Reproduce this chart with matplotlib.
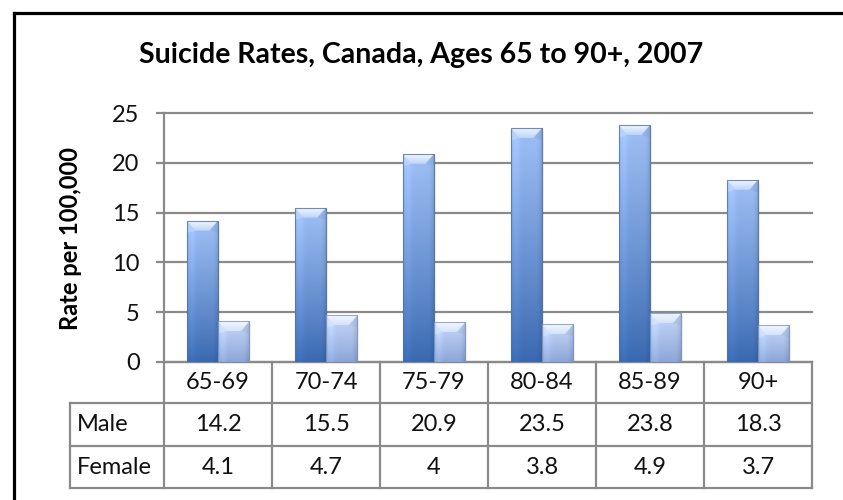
import numpy as np
import matplotlib
matplotlib.use("Agg")
import matplotlib.pyplot as plt
from matplotlib.patches import Rectangle, Polygon
from matplotlib.lines import Line2D

# ---- data -------------------------------------------------------------
categories = ["65-69", "70-74", "75-79", "80-84", "85-89", "90+"]
male = [14.2, 15.5, 20.9, 23.5, 23.8, 18.3]
female = [4.1, 4.7, 4, 3.8, 4.9, 3.7]
series_names = ["Male", "Female"]
y_ticks = [0, 5, 10, 15, 20, 25]
title = "Suicide Rates, Canada, Ages 65 to 90+, 2007"
y_label = "Rate per 100,000"

# ---- figure -----------------------------------------------------------
plt.rcParams['font.family'] = ['Lato', 'DejaVu Sans']
W, H = 843, 500
fig = plt.figure(figsize=(W / 100, H / 100), dpi=100)
fig.patch.set_facecolor("white")


def fx(px):
    return px / W


def fy(py):
    return 1 - py / H


GRID = "#8a8a8a"
TEXT = "#111111"

ax_l, ax_r, ax_t, ax_b = 164, 812, 113, 362
ax = fig.add_axes([fx(ax_l), fy(ax_b), (ax_r - ax_l) / W, (ax_b - ax_t) / H])
n = len(categories)
ymax = y_ticks[-1]

# grid and axes styling
ax.set_yticks(y_ticks)
ax.set_yticklabels([str(t) for t in y_ticks], fontsize=17, color=TEXT)
ax.yaxis.grid(True, color=GRID, lw=1.6)
ax.set_axisbelow(True)
ax.set_xticks([])
for s in ("top", "right"):
    ax.spines[s].set_visible(False)
for s in ("left", "bottom"):
    ax.spines[s].set_color(GRID)
    ax.spines[s].set_linewidth(1.6)
ax.tick_params(axis="y", direction="out", length=5.5, width=1.6, color=GRID, pad=12)

# pixel -> data conversion for bevel sizes
px_x = n / (ax_r - ax_l)
px_y = ymax / (ax_b - ax_t)

bar_w = 0.29
centers = np.arange(n) + 0.5

styles = {
    "Male": dict(bottom=(56, 104, 176), top=(160, 192, 246),
                 bevel_top=(240, 246, 255), bevel_bot=(190, 212, 250),
                 edge="#4f72a8"),
    "Female": dict(bottom=(138, 164, 214), top=(198, 216, 249),
                   bevel_top=(244, 248, 255), bevel_bot=(212, 226, 250),
                   edge="#7f97c4"),
}


def body_image(st):
    ny, nx = 256, 48
    t = np.linspace(0, 1, ny)[:, None]          # 0 bottom -> 1 top
    u = np.linspace(0, 1, nx)[None, :]          # 0 left -> 1 right
    bot = np.array(st["bottom"], float) / 255
    top = np.array(st["top"], float) / 255
    base = bot[None, None, :] + (top - bot)[None, None, :] * (t ** 0.9)[:, :, None]
    shade = 1.0 + 0.06 * np.exp(-((u - 0.15) / 0.12) ** 2) - 0.13 * np.clip((u - 0.8) / 0.2, 0, 1) ** 1.5
    img = np.clip(base * shade[:, :, None], 0, 1)
    return img[::-1]                             # row 0 at top for imshow


def bevel_image(st):
    ny = 64
    t = np.linspace(0, 1, ny)[:, None]
    a = np.array(st["bevel_top"], float) / 255
    b = np.array(st["bevel_bot"], float) / 255
    img = b[None, :] + (a - b)[None, :] * t
    img = np.repeat(img[:, None, :], 4, axis=1)
    return img[::-1]


def draw_bar(patch, st):
    x0 = patch.get_x()
    w = patch.get_width()
    h = patch.get_height()
    x1 = x0 + w
    # soft shadow to the right
    ax.add_patch(Rectangle((x1, 0), 2 * px_x, h - 3 * px_y, facecolor="#000000",
                           alpha=0.06, lw=0, zorder=2.5))
    im = ax.imshow(body_image(st), extent=(x0, x1, 0, h), aspect="auto",
                   interpolation="bilinear", zorder=3)
    im.set_clip_path(patch)
    ix, iy = 8.5 * px_x, 10 * px_y
    iy = min(iy, h * 0.4)
    top_face = Polygon([(x0, h), (x1, h), (x1 - ix, h - iy), (x0 + ix, h - iy)],
                       closed=True, facecolor="none", lw=0, zorder=3.2)
    ax.add_patch(top_face)
    bim = ax.imshow(bevel_image(st), extent=(x0, x1, h - iy, h), aspect="auto",
                    interpolation="bilinear", zorder=3.2)
    bim.set_clip_path(top_face)
    # side bevels
    ax.add_patch(Polygon([(x0, h), (x0 + ix, h - iy), (x0 + ix * 0.25, h - iy * 1.2), (x0, h - iy * 1.2)],
                         closed=True, facecolor="white", alpha=0.22, lw=0, zorder=3.1))
    ax.add_patch(Polygon([(x1, h), (x1 - ix, h - iy), (x1 - ix * 0.25, h - iy * 1.2), (x1, h - iy * 1.2)],
                         closed=True, facecolor="#203a6a", alpha=0.06, lw=0, zorder=3.1))
    ax.add_patch(Rectangle((x0, 0), w, h, facecolor="none", edgecolor=st["edge"],
                           lw=0.8, alpha=0.8, zorder=3.4))


male_bars = ax.bar(centers - bar_w / 2, male, width=bar_w, color="none", lw=0, zorder=3)
female_bars = ax.bar(centers + bar_w / 2, female, width=bar_w, color="none", lw=0, zorder=3)
for p in male_bars:
    draw_bar(p, styles["Male"])
for p in female_bars:
    draw_bar(p, styles["Female"])

ax.set_xlim(0, n)
ax.set_ylim(0, ymax)
for gl in ax.get_ygridlines():
    gl.set_clip_on(False)

# ---- data table beneath the axis ------------------------------------
col_edges = [ax_l + k * (ax_r - ax_l) / n for k in range(n + 1)]
row_edges = [ax_b, 403, 446, 488]
lab_l = 70


def hline(y, x0, x1, color=GRID, lw=1.6):
    fig.add_artist(Line2D([fx(x0), fx(x1)], [fy(y), fy(y)], color=color, lw=lw,
                          transform=fig.transFigure, solid_capstyle="projecting"))


def vline(x, y0, y1, color=GRID, lw=1.6):
    fig.add_artist(Line2D([fx(x), fx(x)], [fy(y0), fy(y1)], color=color, lw=lw,
                          transform=fig.transFigure, solid_capstyle="projecting"))


for y in row_edges[1:]:
    hline(y, lab_l, ax_r)
for x in col_edges:
    vline(x, row_edges[0], row_edges[-1])
vline(lab_l, row_edges[1], row_edges[-1])

fs_tab = 17
for i, cat in enumerate(categories):
    cx = (col_edges[i] + col_edges[i + 1]) / 2
    fig.text(fx(cx), fy((row_edges[0] + row_edges[1]) / 2), cat, ha="center",
             va="center", fontsize=fs_tab, color=TEXT)
for r, (name, vals) in enumerate(zip(series_names, [male, female])):
    cy = (row_edges[r + 1] + row_edges[r + 2]) / 2
    fig.text(fx(lab_l + 7), fy(cy), name, ha="left", va="center",
             fontsize=fs_tab, color=TEXT)
    for i, v in enumerate(vals):
        cx = (col_edges[i] + col_edges[i + 1]) / 2
        fig.text(fx(cx), fy(cy), f"{v:g}", ha="center", va="center",
                 fontsize=fs_tab, color=TEXT)

# ---- titles and frame -------------------------------------------------
fig.text(fx(421), fy(55), title, ha="center", va="center", fontsize=20.5,
         fontweight="bold", color="black")
fig.text(fx(70), fy(238), y_label, ha="center", va="center", rotation=90,
         fontsize=17, fontweight="bold", color="black")

# outer frame: top and left edges (the rest runs past the canvas)
hline(12.5, 13.5, W + 20, color="black", lw=2.3)
vline(13.5, 12.5, H + 20, color="black", lw=2.3)

fig.savefig("out.png", dpi=100, facecolor="white")
